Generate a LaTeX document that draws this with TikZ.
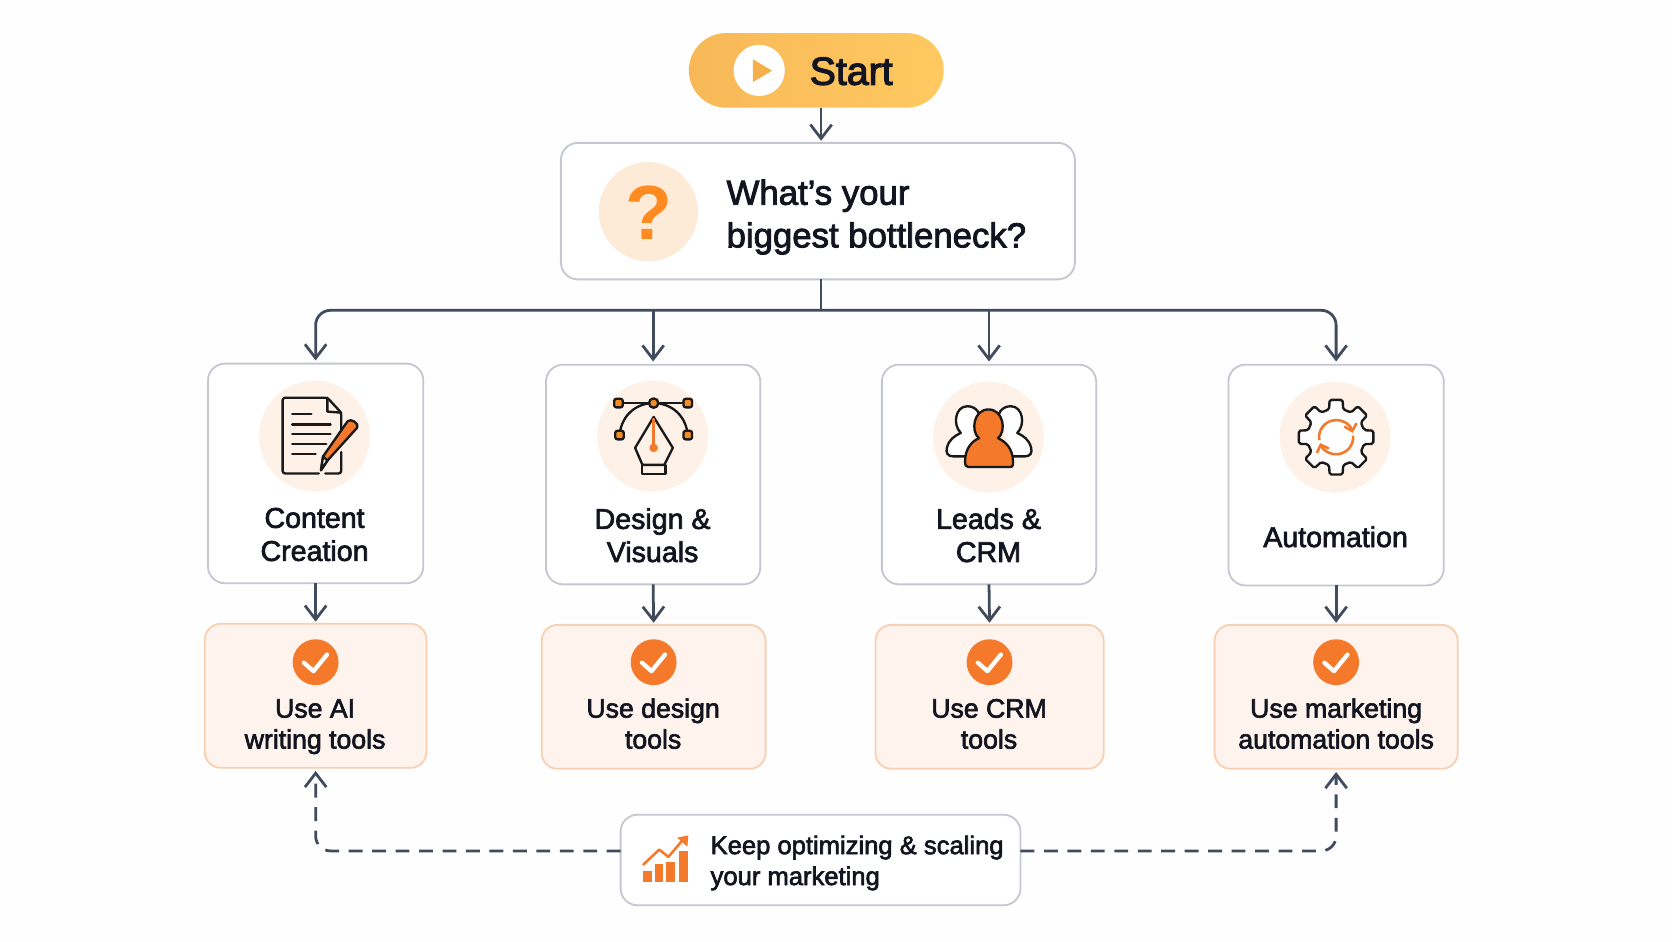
\documentclass[tikz,border=0pt]{standalone}
\usepackage{fontspec}
\setmainfont{Liberation Sans}[FakeBold=2.4]
\newfontfamily\strongf{Liberation Sans Bold}
\usetikzlibrary{arrows.meta,calc}
\definecolor{lineC}{HTML}{414B5E}
\definecolor{inkC}{HTML}{12141F}
\definecolor{edgeC}{HTML}{C4C7CF}
\definecolor{peachC}{HTML}{FDF1E8}
\definecolor{useC}{HTML}{FEF4ED}
\definecolor{useE}{HTML}{F9CFB2}
\definecolor{orC}{HTML}{F5792A}
\definecolor{qC}{HTML}{FF8A1F}
\definecolor{halo}{HTML}{FDEBD8}
\definecolor{pageC}{HTML}{FEFEFE}
\tikzset{
  x=0.5pt,y=-0.5pt,
  sized/.style args={#1/#2}{minimum width=#1*0.5pt,minimum height=#2*0.5pt,inner sep=0pt,outer sep=0pt},
  plainbox/.style={draw=edgeC,line width=0.85pt,fill=white,rounded corners=8pt},
  usebox/.style={draw=useE,line width=0.85pt,fill=useC,rounded corners=7.5pt},
  conn/.style={draw=lineC,line width=1.3pt,-{Straight Barb[length=6.5pt,width=10pt,line width=1.3pt]}},
  trunkline/.style={draw=lineC,line width=1.3pt},
  dashconn/.style={conn,dash pattern=on 6.5pt off 4.5pt,rounded corners=7pt},
  disc/.style={circle,fill=peachC,minimum size=52pt,inner sep=0pt,outer sep=0pt},
  checkdisc/.style={circle,fill=orC,minimum size=21.5pt,inner sep=0pt},
  checkline/.style={draw=white,line width=2pt,line cap=round,line join=round},
  titletext/.style={inner sep=0pt,outer sep=0pt,text=inkC,align=center,font=\fontsize{13.4}{15.5}\selectfont},
  tooltext/.style={inner sep=0pt,outer sep=0pt,text=inkC,align=center,font=\fontsize{12.5}{14.6}\selectfont},
  iconK/.style={draw=black!90,line width=1.1pt,line join=round,line cap=round},
  iconO/.style={draw=orC,line width=1.2pt,line cap=round,line join=round},
}
\begin{document}
\begin{tikzpicture}
\useasboundingbox (0,0) rectangle (1568,882.5);
\fill[pageC] (0,0) rectangle (1568,882.5);

% start
\node (start) [sized=239/70,rounded corners=17.5pt,shade,left color={rgb,255:red,248;green,184;blue,88},right color={rgb,255:red,255;green,201;blue,96}] at (765.5,66) {};
\node (playdisc) [circle,fill=white,minimum size=24pt,inner sep=0pt] at (712,66) {};
\fill[fill={rgb,255:red,245;green,176;blue,76}] (706,55.5) -- (724,66.3) -- (706,77) -- cycle;
\node (starttext) [anchor=base west,inner sep=0pt,text=inkC,font=\fontsize{18.4}{20}\selectfont\addfontfeature{FakeBold=3}] at (759,79.5) {Start};

% question
\node (q) [sized=482/128,plainbox] at (767,198) {};
\node (qdisc) [circle,fill=halo,minimum size=46.5pt,inner sep=0pt] at (608,198.5) {};
\node (qmark) [text=qC,inner sep=0pt,font=\strongf\fontsize{36}{40}\selectfont] at (608.5,199) {?};
\node (qtext1) [anchor=base west,inner sep=0pt,text=inkC,font=\fontsize{16.3}{20}\selectfont] at (681,192) {What’s your};
\node (qtext2) [anchor=base west,inner sep=0pt,text=inkC,font=\fontsize{16.3}{20}\selectfont] at (681,232) {biggest bottleneck?};

% cards
\node (c1) [sized=202/206,plainbox] at (296,444) {};
\node (c2) [sized=201/206,plainbox] at (612.5,445) {};
\node (c3) [sized=201/206,plainbox] at (927.5,445) {};
\node (c4) [sized=202/207,plainbox] at (1253,445.5) {};
\node (d1) [disc] at (295,409) {};
\node (d2) [disc] at (612,409) {};
\node (d3) [disc] at (927,410) {};
\node (d4) [disc] at (1252,410) {};

\node (t1a) [titletext,anchor=base] at (295,495) {Content};
\node (t1b) [titletext,anchor=base] at (295,526) {Creation};
\node (t2a) [titletext,anchor=base] at (612,496) {Design \&};
\node (t2b) [titletext,anchor=base] at (612,527) {Visuals};
\node (t3a) [titletext,anchor=base] at (927,496) {Leads \&};
\node (t3b) [titletext,anchor=base] at (927,527) {CRM};
\node (t4a) [titletext,anchor=base] at (1252.5,513) {Automation};

% use boxes
\node (u1) [sized=208/135,usebox] at (296,652.5) {};
\node (u2) [sized=210/135,usebox] at (613,653.5) {};
\node (u3) [sized=214/135,usebox] at (928,653.5) {};
\node (u4) [sized=228/135,usebox] at (1253,653.5) {};
\foreach \n/\px in {1/296,2/613,3/928,4/1253}{
  \node (ck\n) [checkdisc] at (\px,621) {};
  \draw[checkline,shift={(\px,621)}] (-11,.5) -- (-2,8.4) -- (10.7,-7.2);
}
\node (ua1) [tooltext,anchor=base] at (295.5,673) {Use AI};
\node (ub1) [tooltext,anchor=base] at (295.5,702) {writing tools};
\node (ua2) [tooltext,anchor=base] at (612.5,673) {Use design};
\node (ub2) [tooltext,anchor=base] at (612.5,702) {tools};
\node (ua3) [tooltext,anchor=base] at (927.5,673) {Use CRM};
\node (ub3) [tooltext,anchor=base] at (927.5,702) {tools};
\node (ua4) [tooltext,anchor=base] at (1253,673) {Use marketing};
\node (ub4) [tooltext,anchor=base] at (1253,702) {automation tools};

% keep box
\node (k) [sized=375/85,plainbox] at (769.5,806.5) {};
\node (ka) [anchor=base west,inner sep=0pt,text=inkC,font=\fontsize{12}{14}\selectfont] at (666,801) {Keep optimizing \& scaling};
\node (kb) [anchor=base west,inner sep=0pt,text=inkC,font=\fontsize{12}{14}\selectfont] at (666,830) {your marketing};

% connectors
\coordinate (trunk) at (770,291);
\coordinate (dashrow) at (295,798);
\draw[conn,shorten >=1pt] (start.south -| trunk) -- (q.north -| trunk);
\draw[trunkline] (q.south -| trunk) -- (trunk);
\draw[conn,rounded corners=7pt,shorten >=1.5pt] (trunk) -| (c1.north);
\draw[conn,rounded corners=7pt,shorten >=1.5pt] (trunk) -| (c4.north);
\draw[conn,shorten >=1.5pt] (trunk -| c2.north) -- (c2.north);
\draw[conn,shorten >=1.5pt] (trunk -| c3.north) -- (c3.north);
\foreach \n in {1,2,3,4}{
  \draw[conn,shorten >=1pt] (c\n.south) -- (u\n.north);
}
\draw[dashconn,shorten >=1.5pt] (k.west |- dashrow) -| (u1.south);
\draw[dashconn,shorten >=1.5pt] (k.east |- dashrow) -| (u4.south);

% document icon
\draw[iconK,rounded corners=1.2pt] (299,444) -- (265,444) -- (265,373) -- (307,373) -- (320,387) -- (320,416);
\draw[iconK,rounded corners=1.2pt] (305,444) -- (320,444) -- (320,424);
\draw[iconK] (307,373) -- (307,386) -- (320,387);
\draw[iconK] (274,388) -- (292,388);
\draw[iconK] (274,398) -- (310,398);
\draw[iconK] (274,407) -- (310,407);
\draw[iconK] (274,416.5) -- (306,416.5);
\draw[iconK] (274,426) -- (296,426);
\draw[iconK,fill=orC] (307,432) -- (301,441) -- (303,428) -- (326,395) .. controls (329,392) and (337,397) .. (335,401) -- cycle;
\draw[iconK,fill=white] (307,432) -- (301,441) -- (303,428) -- cycle;

% pen icon
\draw[iconK] (580,378) -- (645,378);
\draw[iconK] (581,408) .. controls (583,388) and (598,378) .. (613,378) .. controls (628,378) and (643,388) .. (645,408);
\foreach \n/\px/\py in {a/580/378,b/645/378,d/581/408,e/645/408}{
  \node (pen\n) [iconK,fill=orC!85!yellow,rounded corners=1pt,minimum size=4pt,inner sep=0pt] at (\px,\py) {};
}
\node (penc) [iconK,circle,fill=orC!85!yellow,minimum size=4.4pt,inner sep=0pt] at (613,378) {};
\draw[iconK] (613,391) -- (595.6,420) -- (602.5,436) -- (623,436) -- (631,420) -- cycle;
\draw[iconK] (602,436) rectangle (624,444.5);
\draw[iconO] (613,393) -- (613,419);
\fill[orC] (613,420) circle (2pt);

% people icon
\draw[iconK,fill=white] (905,428) -- (894,428) .. controls (888,428) and (887,424) .. (888,420) .. controls (890,412) and (895,409) .. (901,406) .. controls (893,398) and (896,381) .. (907,381) .. controls (914,381) and (917,385) .. (918,388);
\draw[iconK,fill=white] (950,428) -- (961,428) .. controls (967,428) and (968,424) .. (967,420) .. controls (965,412) and (960,409) .. (954,406) .. controls (962,398) and (959,381) .. (948,381) .. controls (941,381) and (938,385) .. (937,388);
\draw[iconK,fill=orC] (908,438) -- (947,438) .. controls (950,438) and (950,436) .. (950,433) .. controls (950,421) and (943,414) .. (936,411) .. controls (944,404) and (941,384) .. (927,384) .. controls (913,384) and (910,404) .. (918,411) .. controls (911,414) and (905,421) .. (905,433) .. controls (905,436) and (906,438) .. (908,438) -- cycle;

% gear icon
\begin{scope}[shift={(1253,410)}]
\draw[iconK,fill=pageC,rounded corners=0.8pt] (-14:27) \foreach \a in {0,45,...,315}{ -- (\a-14:27) -- (\a-10:35.5) -- (\a+10:35.5) -- (\a+14:27) } -- cycle;
\draw[draw=orC,line width=1.2pt,-{Straight Barb[length=3pt,width=6pt,line width=1.2pt]}] (-190:16) arc[start angle=-190,end angle=-15,radius=16];
\draw[draw=orC,line width=1.2pt,-{Straight Barb[length=3pt,width=6pt,line width=1.2pt]}] (-5:16) arc[start angle=-5,end angle=160,radius=16];
\end{scope}

% chart icon
\fill[orC] (602.7,817) rectangle (611,827);
\fill[orC] (614.3,810) rectangle (622,827);
\fill[orC] (624.6,808) rectangle (633,827);
\fill[orC] (637,798.3) rectangle (645.5,827);
\draw[iconO] (603.3,810.8) -- (618.3,796.7) -- (626.8,803.6) -- (640,788);
\fill[orC] (635,785.5) -- (645.5,783.5) -- (644.6,794) -- cycle;
\end{tikzpicture}
\end{document}
